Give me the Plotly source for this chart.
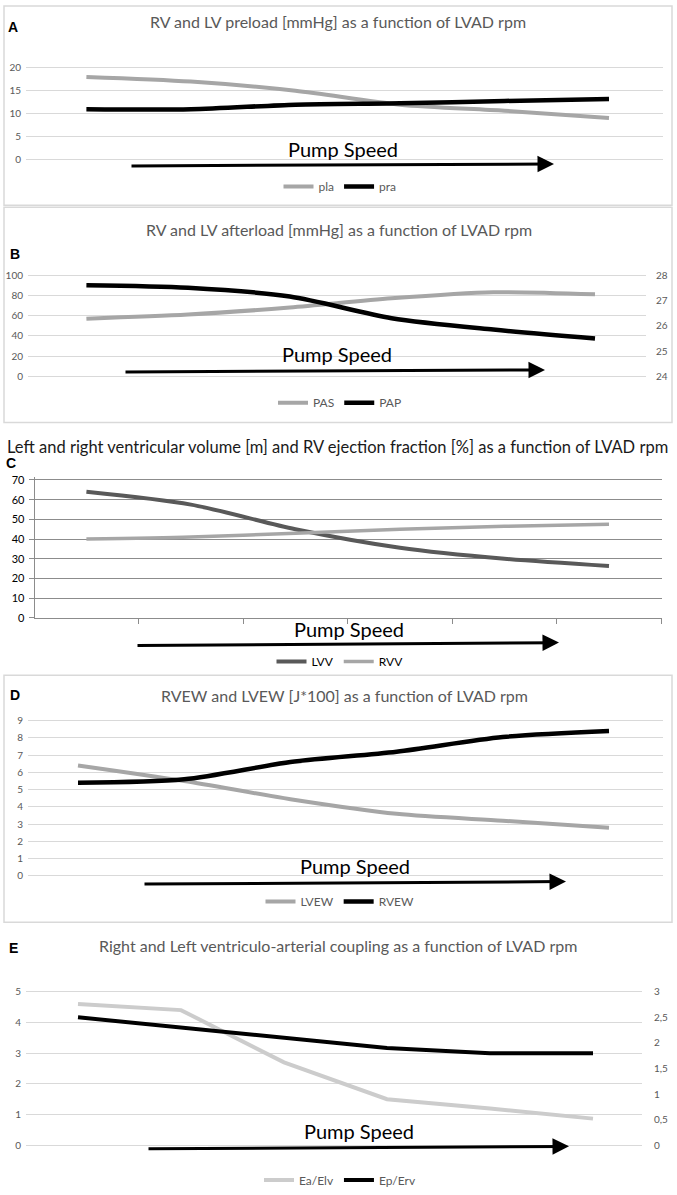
import plotly.graph_objects as go

# ---------------- data ----------------
pump_steps = [1, 2, 3, 4, 5, 6]

pla = [18, 17, 15, 12, 10.7, 9.1]
pra = [11, 11, 12, 12.3, 12.8, 13.2]

pas = [57, 61, 68, 77, 83, 81]
pap = [27.6, 27.5, 27.15, 26.3, 25.85, 25.5]

lvv = [64, 57.5, 45, 35.6, 30, 26.3]
rvv = [40, 41, 43, 45, 46.5, 47.5]

lvew = [6.4, 5.5, 4.45, 3.6, 3.2, 2.8]
rvew = [5.4, 5.6, 6.6, 7.2, 8.05, 8.4]

ea_elv = [4.6, 4.4, 2.7, 1.5, 1.2, 0.87]
ep_erv = [2.5, 2.3, 2.1, 1.9, 1.8, 1.8]

ticks_a = [0, 5, 10, 15, 20]
ticks_b_left = [0, 20, 40, 60, 80, 100]
ticks_b_right = [24, 25, 26, 27, 28]
ticks_c = [0, 10, 20, 30, 40, 50, 60, 70]
ticks_d = [0, 1, 2, 3, 4, 5, 6, 7, 8, 9]
ticks_e_left = [0, 1, 2, 3, 4, 5]
ticks_e_right = [0, 0.5, 1, 1.5, 2, 2.5, 3]
ticks_e_right_text = ["0", "0,5", "1", "1,5", "2", "2,5", "3"]

titles = [
    "RV and LV preload [mmHg] as a function of LVAD rpm",
    "RV and LV afterload [mmHg] as a function of LVAD rpm",
    "Left and right ventricular volume [m] and RV ejection fraction [%] as a function of LVAD rpm",
    "RVEW and LVEW [J*100] as a function of LVAD rpm",
    "Right and Left ventriculo-arterial coupling as a function of LVAD rpm",
]
panel_letters = ["A", "B", "C", "D", "E"]
arrow_label = "Pump Speed"

# ---------------- layout helpers ----------------
W, H = 677, 1195
FONT = "Lato"
GTXT = "#595959"
LGRID = "#d9d9d9"


def xdom(x_first, x_last, left, right, n=6):
    step = (x_last - x_first) / (n - 1)
    lo = 1 + (left - x_first) / step
    hi = 1 + (right - x_first) / step
    return [left / W, right / W], [lo, hi]


def ydom(v0, p0, v1, p1, top, bot):
    s = (p1 - p0) / (v1 - v0)
    lo = v0 + (bot - p0) / s
    hi = v0 + (top - p0) / s
    return [1 - bot / H, 1 - top / H], [lo, hi]


fig = go.Figure()

# ---------------- traces ----------------
SM = 0.8
fig.add_trace(go.Scatter(x=pump_steps, y=pla, name="pla", mode="lines", xaxis="x", yaxis="y",
                         line=dict(color="#a6a6a6", width=4, shape="spline", smoothing=SM), legend="legend"))
fig.add_trace(go.Scatter(x=pump_steps, y=pra, name="pra", mode="lines", xaxis="x", yaxis="y",
                         line=dict(color="#000000", width=4.5, shape="spline", smoothing=SM), legend="legend"))

fig.add_trace(go.Scatter(x=pump_steps, y=pas, name="PAS", mode="lines", xaxis="x2", yaxis="y2",
                         line=dict(color="#a6a6a6", width=4, shape="spline", smoothing=SM), legend="legend2"))
fig.add_trace(go.Scatter(x=pump_steps, y=pap, name="PAP", mode="lines", xaxis="x2", yaxis="y6",
                         line=dict(color="#000000", width=4.5, shape="spline", smoothing=SM), legend="legend2"))

fig.add_trace(go.Scatter(x=pump_steps, y=lvv, name="LVV", mode="lines", xaxis="x3", yaxis="y3",
                         line=dict(color="#595959", width=4, shape="spline", smoothing=SM), legend="legend3"))
fig.add_trace(go.Scatter(x=pump_steps, y=rvv, name="RVV", mode="lines", xaxis="x3", yaxis="y3",
                         line=dict(color="#a6a6a6", width=3.5, shape="spline", smoothing=SM), legend="legend3"))

fig.add_trace(go.Scatter(x=pump_steps, y=lvew, name="LVEW", mode="lines", xaxis="x4", yaxis="y4",
                         line=dict(color="#a6a6a6", width=4, shape="spline", smoothing=SM), legend="legend4"))
fig.add_trace(go.Scatter(x=pump_steps, y=rvew, name="RVEW", mode="lines", xaxis="x4", yaxis="y4",
                         line=dict(color="#000000", width=4.5, shape="spline", smoothing=SM), legend="legend4"))

fig.add_trace(go.Scatter(x=pump_steps, y=ea_elv, name="Ea/Elv", mode="lines", xaxis="x5", yaxis="y5",
                         line=dict(color="#cccccc", width=4), legend="legend5"))
fig.add_trace(go.Scatter(x=pump_steps, y=ep_erv, name="Ep/Erv", mode="lines", xaxis="x5", yaxis="y7",
                         line=dict(color="#000000", width=4), legend="legend5"))

# ---------------- axes ----------------
tickfont = dict(family=FONT, size=10, color=GTXT)
hidden_x = dict(showgrid=False, zeroline=False, showticklabels=False, showline=False, ticks="", fixedrange=True)

xa_dom, xa_rng = xdom(86.4, 609, 26, 663)
xb_dom, xb_rng = xdom(86.4, 595, 28, 646)
xc_dom, xc_rng = xdom(86.4, 609, 34.6, 662)
xd_dom, xd_rng = xdom(78, 609, 28, 663)
xe_dom, xe_rng = xdom(78, 593, 26, 642)

ya_dom, ya_rng = ydom(0, 157.3, 20, 64.3, 60, 159)
yb_dom, yb_rng = ydom(0, 375.7, 100, 273.3, 268, 378)
_, yb2_rng = ydom(24, 375.7, 28, 273.3, 268, 378)
yc_dom, yc_rng = ydom(0, 619, 70, 480, 477, 619)
yd_dom, yd_rng = ydom(0, 879.3, 9, 722.7, 718, 881)
ye_dom, ye_rng = ydom(0, 1151, 5, 996, 990, 1153)
_, ye2_rng = ydom(0, 1151, 3, 996, 990, 1153)

ygrid = dict(showgrid=True, gridcolor=LGRID, gridwidth=1, zeroline=False, showline=False,
             ticks="", tickfont=tickfont, tickmode="array", ticklabelstandoff=4)

fig.update_layout(
    xaxis=dict(domain=xa_dom, range=xa_rng, anchor="y", **hidden_x),
    xaxis2=dict(domain=xb_dom, range=xb_rng, anchor="y2", **hidden_x),
    xaxis3=dict(domain=xc_dom, range=xc_rng, anchor="y3", showgrid=False, zeroline=False,
                showticklabels=False, showline=True, linecolor="#8c8c8c", linewidth=1,
                ticks="outside", ticklen=5, tickcolor="#8c8c8c", tickmode="array",
                tickvals=[p + 0.5 for p in [0] + pump_steps]),
    xaxis4=dict(domain=xd_dom, range=xd_rng, anchor="y4", **hidden_x),
    xaxis5=dict(domain=xe_dom, range=xe_rng, anchor="y5", **hidden_x),
    yaxis=dict(domain=ya_dom, range=ya_rng, anchor="x", tickvals=ticks_a, **ygrid),
    yaxis2=dict(domain=yb_dom, range=yb_rng, anchor="x2", tickvals=ticks_b_left, **ygrid),
    yaxis6=dict(range=yb2_rng, overlaying="y2", anchor="x2", side="right", showgrid=False,
                zeroline=False, showline=False, ticks="", tickfont=tickfont, tickmode="array",
                tickvals=ticks_b_right, ticklabelstandoff=9),
    yaxis3=dict(domain=yc_dom, range=yc_rng, anchor="x3", showgrid=True, gridcolor="#8c8c8c",
                gridwidth=1, zeroline=False, showline=True, linecolor="#8c8c8c", ticks="outside",
                ticklen=5, tickcolor="#8c8c8c", tickmode="array", tickvals=ticks_c,
                tickfont=dict(family=FONT, size=11, color="#000000"), ticklabelstandoff=2),
    yaxis4=dict(domain=yd_dom, range=yd_rng, anchor="x4", tickvals=ticks_d, **ygrid),
    yaxis5=dict(domain=ye_dom, range=ye_rng, anchor="x5", tickvals=ticks_e_left, **ygrid),
    yaxis7=dict(range=ye2_rng, overlaying="y5", anchor="x5", side="right", showgrid=False,
                zeroline=False, showline=False, ticks="", tickfont=tickfont, tickmode="array",
                tickvals=ticks_e_right, ticktext=ticks_e_right_text, ticklabelstandoff=11),
)

# ---------------- legends ----------------
def legend_at(py, color=GTXT):
    return dict(x=340 / W, y=1 - py / H, xanchor="center", yanchor="middle", orientation="h",
                xref="paper", yref="paper", bgcolor="rgba(0,0,0,0)", borderwidth=0,
                font=dict(family=FONT, size=12, color=color), itemwidth=30,
                tracegroupgap=0, entrywidthmode="pixels")


fig.update_layout(
    legend=legend_at(184),
    legend2=legend_at(402),
    legend3=legend_at(663, "#000000"),
    legend4=legend_at(905),
    legend5=legend_at(1186),
)

# ---------------- annotations ----------------
ann = []
title_pos = [(338, 18), (339, 227), (337, 447), (344, 697), (338, 949)]
title_col = [GTXT, GTXT, "#1a1a1a", GTXT, GTXT]
title_size = [16, 16, 16.5, 16, 16]
for t, (px, py), c, s in zip(titles, title_pos, title_col, title_size):
    ann.append(dict(text=t, x=px / W, y=1 - py / H, xref="paper", yref="paper", showarrow=False,
                    xanchor="center", yanchor="middle", font=dict(family=FONT, size=s, color=c)))

letter_pos = [(13, 23), (15, 252), (11, 463), (15, 697), (13, 952)]
for t, (px, py) in zip(panel_letters, letter_pos):
    ann.append(dict(text="<b>%s</b>" % t, x=px / W, y=1 - py / H, xref="paper", yref="paper",
                    showarrow=False, xanchor="center", yanchor="middle",
                    font=dict(family="Liberation Sans", size=14, color="#000000")))

ps_pos = [(343, 146), (337, 353), (349, 630), (355, 869), (359, 1137)]
for px, py in ps_pos:
    ann.append(dict(text=arrow_label, x=px / W, y=1 - py / H, xref="paper", yref="paper",
                    showarrow=False, xanchor="center", yanchor="middle",
                    font=dict(family=FONT, size=20, color="#000000")))

arrows = [((130, 163.3), (554, 161.3)), ((124, 371), (545, 369)), ((136, 647), (559, 644)),
          ((143, 887.5), (566, 885)), ((147, 1154.5), (569, 1152))]
for (tx, ty), (hx, hy) in arrows:
    ann.append(dict(text="", x=hx / W, y=1 - hy / H, xref="paper", yref="paper",
                    ax=tx - hx, ay=ty - hy, axref="pixel", ayref="pixel", showarrow=True,
                    arrowhead=2, arrowsize=1.1, arrowwidth=3, arrowcolor="#000000", standoff=0))

# ---------------- panel boxes ----------------
shapes = []
for top, bot in [(2, 203), (205, 422), (677, 926)]:
    shapes.append(dict(type="rect", xref="paper", yref="paper", x0=4 / W, x1=672 / W,
                       y0=1 - bot / H, y1=1 - top / H, line=dict(color="#d9d9d9", width=1.5),
                       fillcolor="rgba(0,0,0,0)", layer="below"))

fig.update_layout(
    width=W, height=H, margin=dict(l=0, r=0, t=0, b=0),
    paper_bgcolor="white", plot_bgcolor="rgba(0,0,0,0)",
    annotations=ann, shapes=shapes, showlegend=True,
    font=dict(family=FONT, color=GTXT),
)

reset_page = ("document.documentElement.style.margin='0';document.body.style.margin='0';"
              "document.body.style.padding='0';document.documentElement.style.overflow='hidden';"
              "document.body.style.overflow='hidden';")
fig.write_html("out.html", post_script=reset_page, config={"displayModeBar": False})
